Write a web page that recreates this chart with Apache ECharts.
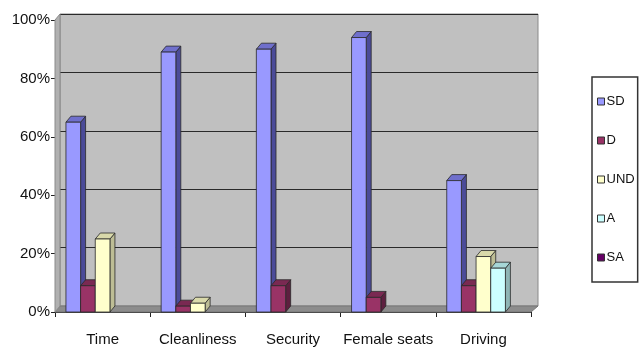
<!DOCTYPE html>
<html><head><meta charset="utf-8">
<script src="https://cdn.jsdelivr.net/npm/echarts@6/dist/echarts.min.js"></script>
<style>html,body{margin:0;padding:0;background:#fff}#c{width:643px;height:352px}</style>
</head><body><div id="c"></div>
<script>
var categories = ['Time', 'Cleanliness', 'Security', 'Female seats', 'Driving'];
var seriesNames = ['SD', 'D', 'UND', 'A', 'SA'];
var SD  = [65, 89, 90, 94, 45];
var D   = [9, 2, 9, 5, 9];
var UND = [25, 3, 0, 0, 19];
var A   = [0, 0, 0, 0, 15];
var SA  = [0, 0, 0, 0, 0];
var yTicks = [0, 20, 40, 60, 80, 100];

var values = [SD, D, UND, A, SA];
var colors = ['#9999FF', '#993366', '#FFFFCC', '#CCFFFF', '#660066'];
var sideColors = ['#4B4B99', '#5E1F3F', '#BDBD95', '#8FB5B5', '#3A003A'];
var topColors = ['#6F6FCC', '#7A2952', '#D9D9AA', '#A6D6D6', '#4D004D'];

var chart = echarts.init(document.getElementById('c'), null, {renderer: 'canvas'});
var font = '"Liberation Sans Narrow", "Liberation Sans", Arial, sans-serif';
var DX = 5, DY = 6;

function makeRender(si) {
  return function (params, api) {
    var ci = api.value(0), v = api.value(1);
    if (!v) return null;
    var base = api.coord([ci, 0]);
    var top = api.coord([ci, v]);
    var band = api.size([1, 0])[0];
    var bw = band * 0.154;
    var x = base[0] - band / 2 + band * 0.115 + si * bw;
    var y0 = base[1], y1 = top[1];
    var st = {stroke: '#2a2a2a', lineWidth: 0.8};
    return {type: 'group', children: [
      {type: 'polygon', shape: {points: [[x + bw, y1], [x + bw + DX, y1 - DY], [x + bw + DX, y0 - DY], [x + bw, y0]]},
       style: Object.assign({fill: sideColors[si]}, st)},
      {type: 'polygon', shape: {points: [[x, y1], [x + DX, y1 - DY], [x + bw + DX, y1 - DY], [x + bw, y1]]},
       style: Object.assign({fill: topColors[si]}, st)},
      {type: 'rect', shape: {x: x, y: y1, width: bw, height: y0 - y1},
       style: Object.assign({fill: colors[si]}, st)}
    ]};
  };
}

var series = seriesNames.map(function (n, si) {
  return {
    name: n, type: 'custom', xAxisIndex: 1, yAxisIndex: 1,
    itemStyle: {color: colors[si]},
    renderItem: makeRender(si),
    encode: {x: 0, y: 1},
    data: values[si].map(function (v, i) { return [i, v]; }),
    z: 5
  };
});

chart.setOption({
  animation: false,
  grid: [
    {left: 60, right: 105, top: 14, bottom: 46, show: true, backgroundColor: '#C0C0C0', borderColor: '#8a8a8a', borderWidth: 1},
    {left: 55, right: 112, top: 20, bottom: 40}
  ],
  graphic: [
    {type: 'polygon', z: 1, shape: {points: [[55, 312], [60, 306], [538, 306], [531, 312]]}, style: {fill: '#8c8c8c', stroke: '#777'}},
    {type: 'polygon', z: 1, shape: {points: [[55, 20], [60, 14], [60, 306], [55, 312]]}, style: {fill: '#b0b0b0', stroke: '#8a8a8a'}}
  ],
  xAxis: [
    {gridIndex: 0, type: 'category', data: categories, show: false},
    {gridIndex: 1, type: 'category', data: categories,
     axisLine: {lineStyle: {color: '#222', width: 1}},
     axisTick: {show: true, length: 5, lineStyle: {color: '#222'}},
     axisLabel: {interval: 0, color: '#111', fontFamily: font, fontSize: 15, margin: 20}}
  ],
  yAxis: [
    {gridIndex: 0, type: 'value', min: 0, max: 100, interval: 20,
     axisLine: {show: false}, axisTick: {show: false}, axisLabel: {show: false},
     splitLine: {lineStyle: {color: '#2a2a2a', width: 1}}},
    {gridIndex: 1, type: 'value', min: 0, max: 100, interval: 20,
     axisLine: {show: true, lineStyle: {color: '#222'}},
     axisTick: {show: true, length: 4, lineStyle: {color: '#222'}},
     splitLine: {show: false},
     axisLabel: {color: '#111', fontFamily: font, fontSize: 15, margin: 5,
       formatter: function (v) { return yTicks.indexOf(v) >= 0 ? v + '%' : ''; }}}
  ],
  legend: {
    orient: 'vertical', left: 592, top: 77,
    padding: [18, 3, 18, 5], itemGap: 26, itemWidth: 7, itemHeight: 7,
    borderColor: '#333', borderWidth: 1.5,
    icon: 'rect',
    itemStyle: {borderColor: '#333', borderWidth: 1},
    textStyle: {fontFamily: font, fontSize: 13, color: '#111', padding: [0, 0, 0, -3]},
    data: seriesNames
  },
  series: series
});
</script></body></html>
